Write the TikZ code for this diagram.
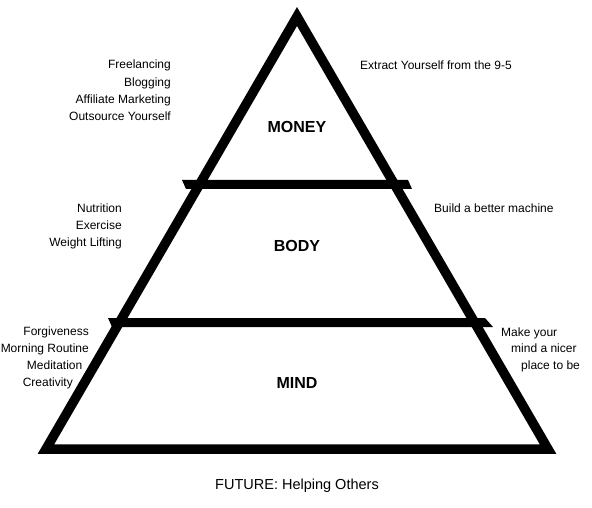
\documentclass[tikz,border=0pt]{standalone}
\usepackage{fontspec}
\setmainfont{Liberation Sans}
\begin{document}
\begin{tikzpicture}[x=1pt,y=-1pt,
  lbl/.style={inner sep=0pt,font=\fontsize{12}{14}\selectfont},
  lblr/.style={lbl,anchor=base east},
  lbll/.style={lbl,anchor=base west},
  tier/.style={inner sep=0pt,anchor=base,font=\fontsize{16}{18}\selectfont\bfseries},
  edge/.style={line width=9.5pt,line join=miter,black},
  bar/.style={fill=black,draw=none}]
\useasboundingbox[fill=white] (0,0) rectangle (592,508);
% triangle
\coordinate (apex) at (297,16.5);
\coordinate (bl) at (46,449);
\coordinate (br) at (548,449);
\draw[edge] (apex) -- (bl) -- (br) -- cycle;
% bars
\fill[bar] (182,180) -- (408,180) -- (412,189) -- (186,189) -- cycle;
\fill[bar] (108,318) -- (485,318) -- (493,327) -- (112,327) -- cycle;
% tier labels
\node[tier] (money) at (297,133) {MONEY};
\node[tier] (body) at (297,251) {BODY};
\node[tier] (mind) at (297,388) {MIND};
% money side texts
\node[lblr] (t1) at (171,69) {Freelancing};
\node[lblr] (t2) at (171,86.5) {Blogging};
\node[lblr] (t3) at (171,104) {Affiliate Marketing};
\node[lblr] (t4) at (171,121) {Outsource Yourself};
\node[lbll] (t5) at (360,70) {Extract Yourself from the 9-5};
% body side texts
\node[lblr] (b1) at (122,212.5) {Nutrition};
\node[lblr] (b2) at (122,229.5) {Exercise};
\node[lblr] (b3) at (122,246.5) {Weight Lifting};
\node[lbll] (b4) at (434,212.5) {Build a better machine};
% mind side texts
\node[lblr] (m1) at (89,335.5) {Forgiveness};
\node[lblr] (m2) at (89,352) {Morning Routine};
\node[lblr] (m3) at (82.5,369) {Meditation};
\node[lblr] (m4) at (73,386) {Creativity};
\node[lbll] (m5) at (501,336) {Make your};
\node[lbll] (m6) at (511,352.5) {mind a nicer};
\node[lbll] (m7) at (521,369) {place to be};
% bottom
\node[inner sep=0pt,anchor=base,font=\fontsize{14.5}{16}\selectfont] (future) at (297,489) {FUTURE: Helping Others};
\end{tikzpicture}
\end{document}
